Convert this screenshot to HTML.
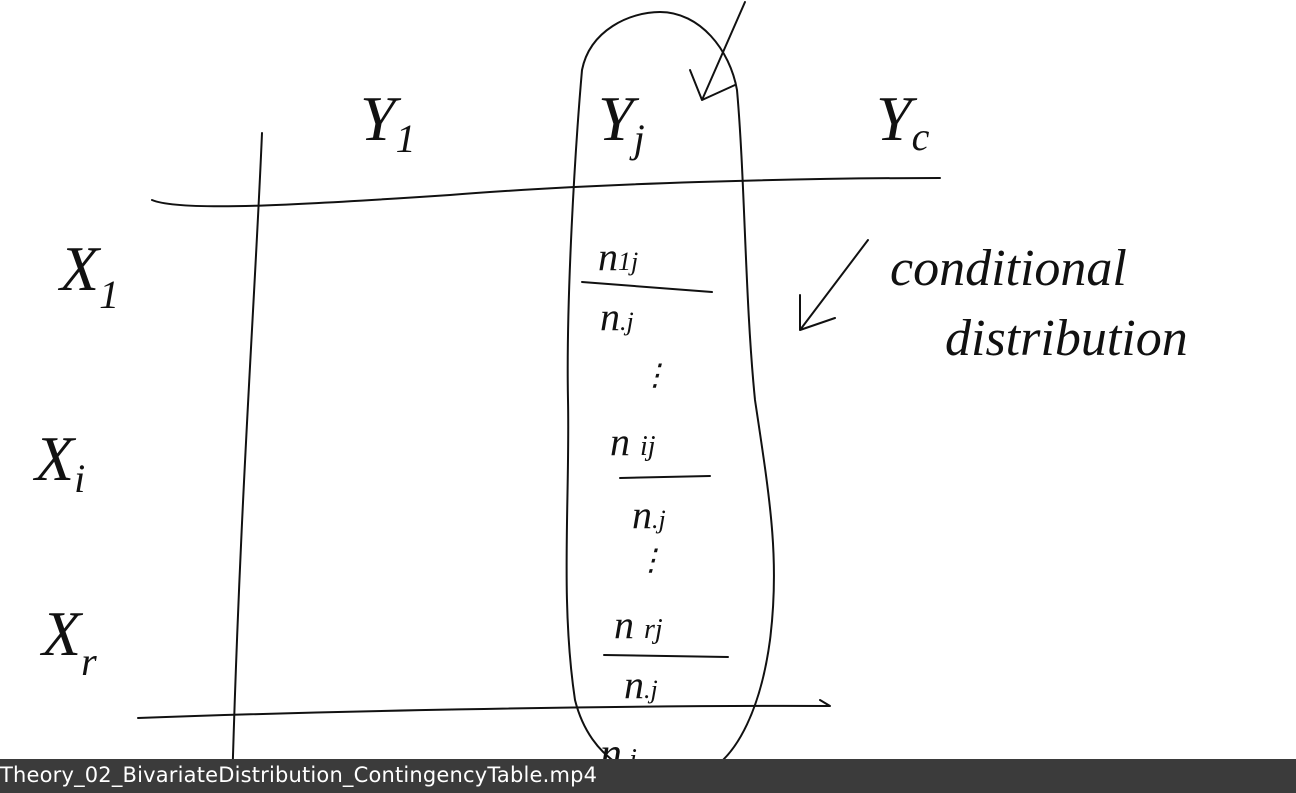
<!DOCTYPE html>
<html><head><meta charset="utf-8"><style>
html,body{margin:0;padding:0;background:#fff;width:1296px;height:793px;overflow:hidden}
svg{display:block}
.s{fill:none;stroke:#111;stroke-width:2;stroke-linecap:round;stroke-linejoin:round}
.h{font-family:"Liberation Serif",serif;fill:#111;font-style:italic}
</style></head><body>
<svg width="1296" height="793">
<path class="s" d="M152,200 C180,212 300,205 450,195 C600,183 800,178 940,178"/>
<path class="s" d="M262,133 C255,300 240,500 232,790"/>
<path class="s" d="M138,718 C300,712 600,705 830,706 L820,700"/>
<path class="s" d="M582,70 C590,30 630,12 660,12 C700,12 730,50 737,90 C745,180 745,300 755,400 C770,500 780,560 770,640 C762,700 740,760 700,775 C640,790 590,760 575,700 C560,600 570,500 568,400 C566,300 575,150 582,70 Z"/>
<path class="s" d="M745,2 L702,100 M690,70 L702,100 L735,85"/>
<path class="s" d="M868,240 L800,330 M800,295 L800,330 L835,318"/>
<path class="s" d="M582,282 L712,292"/>
<path class="s" d="M620,478 L710,476"/>
<path class="s" d="M604,655 L728,657"/>
<g class="h">
<text x="360" y="140" font-size="64">Y<tspan font-size="40" dy="12">1</tspan></text>
<text x="598" y="140" font-size="64">Y<tspan font-size="40" dy="12">j</tspan></text>
<text x="876" y="140" font-size="64">Y<tspan font-size="40" dy="10">c</tspan></text>
<text x="60" y="290" font-size="64">X<tspan font-size="40" dy="18">1</tspan></text>
<text x="35" y="480" font-size="64">X<tspan font-size="40" dy="12">i</tspan></text>
<text x="42" y="655" font-size="64">X<tspan font-size="40" dy="20">r</tspan></text>
<text x="598" y="270" font-size="40">n<tspan font-size="26">1j</tspan></text>
<text x="600" y="330" font-size="40">n<tspan font-size="26">.j</tspan></text>
<text x="640" y="385" font-size="30">⋮</text>
<text x="610" y="455" font-size="40">n <tspan font-size="28">ij</tspan></text>
<text x="632" y="528" font-size="40">n<tspan font-size="26">.j</tspan></text>
<text x="636" y="570" font-size="30">⋮</text>
<text x="614" y="638" font-size="40">n <tspan font-size="28">rj</tspan></text>
<text x="624" y="698" font-size="40">n<tspan font-size="26">.j</tspan></text>
<text x="600" y="768" font-size="44">n<tspan font-size="28">.j</tspan></text>
<text x="890" y="285" font-size="52">conditional</text>
<text x="945" y="355" font-size="52">distribution</text>
</g>
<rect x="0" y="759" width="1296" height="34" fill="#3b3b3b"/>
<text x="0" y="782" font-family="'DejaVu Sans',sans-serif" font-size="21" textLength="597" lengthAdjust="spacing" fill="#fff">Theory_02_BivariateDistribution_ContingencyTable.mp4</text>
</svg>
</body></html>
